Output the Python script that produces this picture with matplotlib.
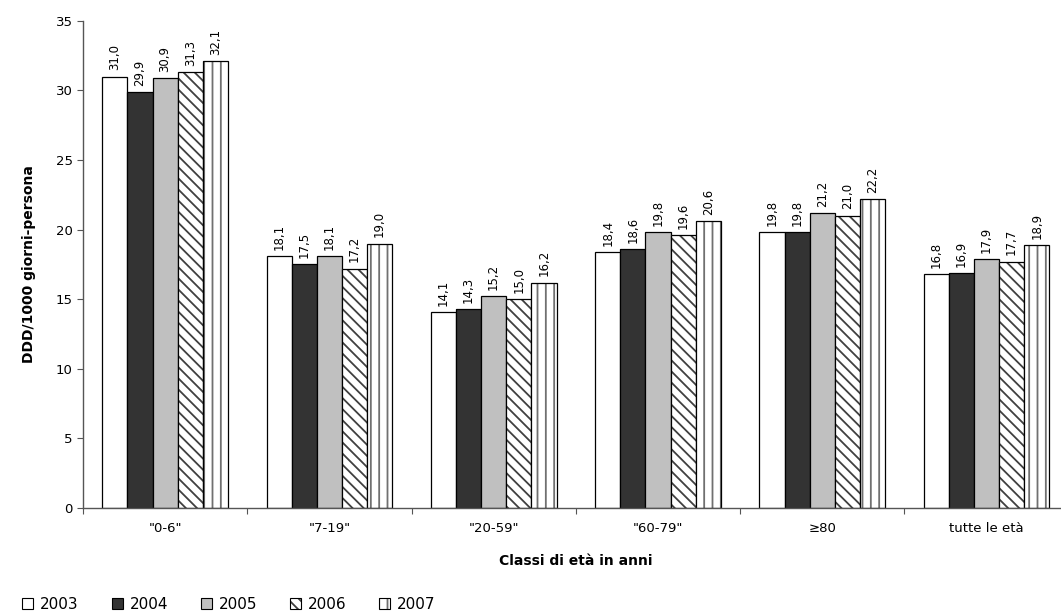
import matplotlib.pyplot as plt
import numpy as np
from matplotlib.patches import Patch

categories = ['"0-6"', '"7-19"', '"20-59"', '"60-79"', "≥80", "tutte le età"]
years = ["2003", "2004", "2005", "2006", "2007"]

v2003 = [31.0, 18.1, 14.1, 18.4, 19.8, 16.8]
v2004 = [29.9, 17.5, 14.3, 18.6, 19.8, 16.9]
v2005 = [30.9, 18.1, 15.2, 19.8, 21.2, 17.9]
v2006 = [31.3, 17.2, 15.0, 19.6, 21.0, 17.7]
v2007 = [32.1, 19.0, 16.2, 20.6, 22.2, 18.9]
series = [v2003, v2004, v2005, v2006, v2007]

facecolors = ["white", "#333333", "#c0c0c0", "white", "white"]
hatches = [None, None, None, "\\\\\\", "||"]
hatchcolors = ["black", "black", "black", "#404040", "#707070"]

plt.rcParams["font.family"] = "DejaVu Sans"
plt.rcParams["hatch.linewidth"] = 1.3

fig = plt.figure(figsize=(10.61, 6.15), dpi=100)
ax = fig.add_axes([0.0782, 0.174, 0.929, 0.792])

x = np.arange(len(categories))
w = 0.153
for k, (vals, fc, h, hc) in enumerate(zip(series, facecolors, hatches, hatchcolors)):
    pos = x + (k - 2) * w
    # fill + hatch (hatch takes the edge colour), then black outline on top
    ax.bar(pos, vals, width=w, facecolor=fc, edgecolor=hc, linewidth=0, hatch=h)
    ax.bar(pos, vals, width=w, fill=False, edgecolor="black", linewidth=0.9)
    for xp, v in zip(pos, vals):
        ax.text(xp, v + 0.45, f"{v:.1f}".replace(".", ","), rotation=90,
                ha="center", va="bottom", fontsize=8.5)

ax.set_xlim(-0.5, len(categories) - 0.5)
ax.set_ylim(0, 35)
ax.set_yticks(range(0, 36, 5))
ax.set_xticks(np.arange(-0.5, len(categories) + 0.5, 1))
ax.set_xticklabels([])
ax.set_xticks(x, minor=True)
ax.set_xticklabels(categories, minor=True, fontsize=9.5)
ax.tick_params(axis="x", which="minor", length=0, pad=10)
ax.tick_params(axis="x", which="major", length=4, direction="out", color="#555555")
ax.tick_params(axis="y", length=4, labelsize=9.5, color="#555555")
for s in ["top", "right"]:
    ax.spines[s].set_visible(False)
for s in ["left", "bottom"]:
    ax.spines[s].set_color("#555555")
    ax.spines[s].set_linewidth(1.0)

ax.set_ylabel("DDD/1000 giorni-persona", fontsize=10, fontweight="bold", labelpad=14)
ax.set_xlabel("Classi di età in anni", fontsize=10, fontweight="bold", labelpad=14)

handles = []
for fc, h, hc in zip(facecolors, hatches, hatchcolors):
    fill = Patch(facecolor=fc, edgecolor=hc, linewidth=0, hatch=h)
    outline = Patch(fill=False, edgecolor="black", linewidth=0.8)
    handles.append((fill, outline))
fig.legend(handles, years, loc="lower left", bbox_to_anchor=(0.008, -0.017),
           ncol=5, frameon=False, fontsize=11, handlelength=0.72, handleheight=0.72,
           handletextpad=0.45, columnspacing=2.15)

fig.savefig("out.png", dpi=100)
